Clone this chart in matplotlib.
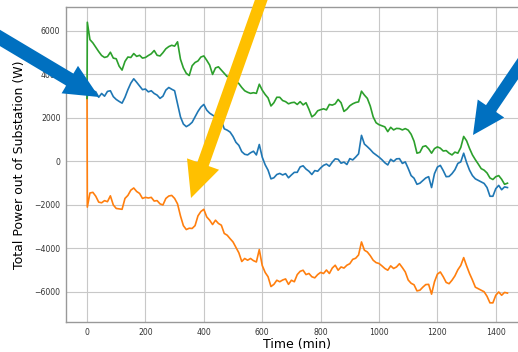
import matplotlib
matplotlib.use("Agg")
import matplotlib.pyplot as plt
from matplotlib.patches import FancyArrow
from matplotlib.transforms import IdentityTransform

# time axis (minutes): start spike, then one reading every 10 min
time_min = [0, 1] + list(range(10, 1450, 10))

blue_w = [2900, 3000,
          3380, 3250, 3200, 2950, 3125, 3000, 3220, 3250, 2980, 2850,
          2760, 2680, 2950, 3300, 3600, 3800, 3640, 3470, 3300, 3330,
          3200, 3250, 3125, 3050, 2900, 3000, 3280, 3400, 3320, 3250,
          2650, 2050, 1720, 1600, 1680, 1800, 2050, 2300, 2500, 2620,
          2360, 2220, 2130, 2050, 1980, 1880, 1500, 1440, 1350, 1150,
          880, 740, 450, 330, 300, 400, 470, 300, 780, 200,
          -150, -400, -800, -750, -600, -550, -620, -560, -750, -620,
          -500, -500, -250, -200, -350, -450, -600, -420, -450, -300,
          -180, -120, -220, -30, 120, 100, -80, -30, -140, 130,
          70, 200, 350, 1200, 800, 680, 550, 400, 300, 200,
          80, -60, -160, 100, 0, 120, 130, -90, -20, -320,
          -650, -770, -1050, -1000, -880, -760, -700, -1200, -560, -260,
          -180, -420, -700, -690, -560, -380, -90, -20, 380, -50,
          -400, -650, -800, -870, -940, -1010, -1200, -1600, -1600, -1250,
          -1100, -1300, -1170, -1200]

orange_w = [2900, -2100,
            -1450, -1420, -1600, -1870, -1900, -1800, -1850, -1580, -2000, -2160,
            -2180, -2200, -1700, -1560, -1320, -1220, -1380, -1470, -1700, -1650,
            -1680, -1650, -1820, -1800, -1950, -2000, -1700, -1590, -1560, -1700,
            -1950, -2500, -2950, -3130, -3070, -3080, -2950, -2500, -2300, -2200,
            -2550, -2700, -2900, -2700, -2850, -2930, -3310, -3390, -3550, -3700,
            -3950, -4200, -4600, -4460, -4540, -4460, -4560, -4620, -4050, -4780,
            -5100, -5300, -5750, -5650, -5460, -5530, -5450, -5400, -5650, -5460,
            -5530, -5200, -5050, -5000, -5200, -5150, -5300, -5350, -5200, -5100,
            -5150, -4990, -5150, -4900, -4770, -5000, -4850, -4900, -4770, -4700,
            -4500, -4450, -4300, -3700, -4080, -4160, -4330, -4540, -4650, -4690,
            -4800, -4920, -5000, -4800, -4920, -4850, -4700, -4880, -5080, -5450,
            -5600, -5670, -5950, -5920, -5780, -5660, -5650, -6100, -5530, -5180,
            -5080, -5300, -5560, -5620, -5460, -5260, -4980, -4780, -4420, -4800,
            -5150, -5450, -5780, -5850, -5920, -5990, -6200, -6500, -6500, -6150,
            -6000, -6150, -6020, -6050]

green_w = [2900, 6400,
           5600, 5450, 5250, 5050, 4870, 4780, 4820, 5020, 4750, 4720,
           4380, 4200, 4600, 4800, 4780, 4960, 4830, 4880, 4750, 4780,
           4870, 4950, 5100, 4880, 4850, 5000, 5180, 5280, 5340, 5300,
           5500, 4700, 4300, 4050, 3950, 4400, 4550, 4620, 4800, 4850,
           4650, 4430, 4000, 4300, 4350, 4200, 4050, 3900, 3950, 3750,
           3680, 3580, 3400, 3250, 3180, 3130, 3160, 3130, 3550, 3280,
           3080, 2920, 2550, 2700, 2950, 2950, 2800, 2750, 2650, 2700,
           2720, 2620, 2750, 2600, 2700, 2400, 2050, 2150, 2330, 2380,
           2420, 2370, 2620, 2590, 2650, 2850, 2700, 2300, 2400, 2560,
           2650, 2710, 2740, 3230, 3050, 2900, 2550, 2050, 1780, 1690,
           1640, 1590, 1370, 1570, 1450, 1520, 1510, 1450, 1510, 1440,
           1250, 930, 380, 420, 680, 720, 580, 380, 590, 670,
           610, 480, 500, 380, 300, 430, 380, 640, 1150, 950,
           600, 300, 80, -120, -330, -400, -530, -760, -830, -700,
           -650, -820, -1050, -1000]

x_ticks = [0, 200, 400, 600, 800, 1000, 1200, 1400]
y_ticks = [-6000, -4000, -2000, 0, 2000, 4000, 6000]

W, H = 518, 352
fig = plt.figure(figsize=(W / 100, H / 100), dpi=100)
# the original screenshot is cropped on the right, so the axes run past the edge
ax = fig.add_axes([66 / W, 30 / H, 462.5 / W, 315 / H])

ax.plot(time_min, blue_w, color="#1f77b4", lw=1.2)
ax.plot(time_min, orange_w, color="#ff7f0e", lw=1.2)
ax.plot(time_min, green_w, color="#2ca02c", lw=1.2)

ax.set_xlim(-72, 1512)
ax.set_ylim(-7380, 7100)
ax.set_xticks(x_ticks)
ax.set_yticks(y_ticks)
ax.grid(True, color="#c8c8c8", lw=0.8)
ax.set_axisbelow(True)
ax.tick_params(labelsize=5.6, labelcolor="#333333", length=0, pad=4)
for s in ax.spines.values():
    s.set_color("#999999")
    s.set_linewidth(1.0)
ax.set_xlabel("Time (min)", fontsize=9, labelpad=1)
ax.set_ylabel("Total Power out of Substation (W)", fontsize=9, labelpad=6)


def arrow(tail, tip, width, head_w, head_l, color):
    # pixel coords measured from the top-left of the picture
    x0, y0 = tail[0], H - tail[1]
    x1, y1 = tip[0], H - tip[1]
    fig.add_artist(FancyArrow(x0, y0, x1 - x0, y1 - y0, width=width,
                              head_width=head_w, head_length=head_l,
                              length_includes_head=True, color=color,
                              lw=0, transform=IdentityTransform(), zorder=5))


arrow((-10, 32), (99, 97), 14, 32, 34, "#0070c0")
arrow((263, -5), (191, 198), 12, 34, 36, "#ffc000")
arrow((532, 48), (473, 135), 12, 32, 32, "#0070c0")

fig.savefig("out.png", dpi=100)
